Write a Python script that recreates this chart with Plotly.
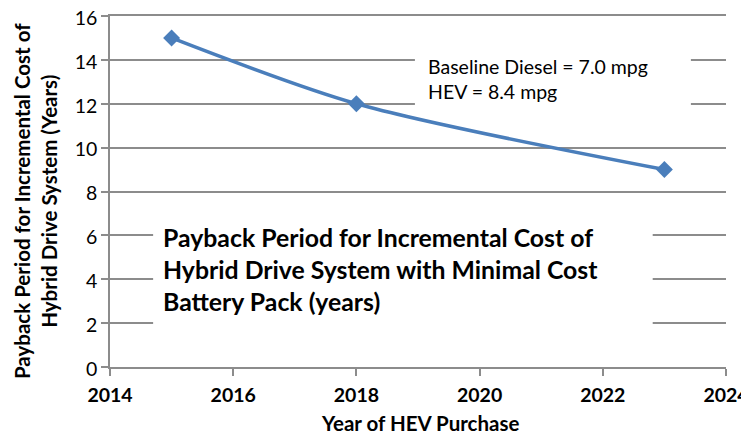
import plotly.graph_objects as go

years = [2015, 2018, 2023]
payback = [15, 12, 9]
x_ticks = [2014, 2016, 2018, 2020, 2022, 2024]
y_ticks = [0, 2, 4, 6, 8, 10, 12, 14, 16]

FONT = "Lato"
GRID = "#8c8c8c"

# page has an 8px body margin: figure drawn at offset (8, 8)
W, H = 741, 428
L, T, R, B = 102, 8, 23, 69
PW, PH = W - L - R, H - T - B

def px_x(px):  # page px -> paper fraction
    return (px - 8 - L) / PW

def px_y(py):
    return (H - B - (py - 8)) / PH

fig = go.Figure()
fig.add_trace(go.Scatter(
    x=years, y=payback, mode="lines+markers",
    line=dict(color="#4a7ebb", width=3.5, shape="spline", smoothing=0.8),
    marker=dict(symbol="diamond", size=13, color="#4a7ebb"),
    showlegend=False, hoverinfo="skip"))

# white text boxes hiding gridlines
fig.add_shape(type="rect", xref="x", yref="y", x0=2014.70, x1=2022.81, y0=1.6, y1=6.9,
              fillcolor="white", line=dict(width=0), layer="between")
fig.add_shape(type="rect", xref="x", yref="y", x0=2018.95, x1=2023.43, y0=11.7, y1=14.4,
              fillcolor="white", line=dict(width=0), layer="between")

fig.add_annotation(x=2014.83, y=4.45, xref="x", yref="y", xanchor="left", yanchor="middle",
                   align="left", showarrow=False,
                   text="<b>Payback Period for Incremental Cost of<br>Hybrid Drive System with Minimal Cost<br>Battery Pack (years)</b>",
                   font=dict(family=FONT, size=24.8, color="black"))
fig.add_annotation(x=2019.13, y=13.11, xref="x", yref="y", xanchor="left", yanchor="middle",
                   align="left", showarrow=False,
                   text="Baseline Diesel = 7.0 mpg<br>HEV = 8.4 mpg",
                   font=dict(family=FONT, size=19.5, color="black"))

# axis titles
fig.add_annotation(x=px_x(35), y=px_y(201), xref="paper", yref="paper",
                   xanchor="center", yanchor="middle", showarrow=False, textangle=-90,
                   text="<b>Payback Period for Incremental Cost of<br>Hybrid Drive System (Years)</b>",
                   font=dict(family=FONT, size=20.5, color="black"))
fig.add_annotation(x=px_x(420), y=px_y(423), xref="paper", yref="paper",
                   xanchor="center", yanchor="middle", showarrow=False,
                   text="<b>Year of HEV Purchase</b>",
                   font=dict(family=FONT, size=20.5, color="black"))

fig.update_layout(
    width=W, height=H,
    margin=dict(l=L, r=R, t=T, b=B, autoexpand=False),
    paper_bgcolor="white", plot_bgcolor="white",
    font=dict(family=FONT, color="black"),
    xaxis=dict(range=[2014, 2024], tickmode="array", tickvals=x_ticks,
               ticktext=[f"<b>{v}</b>" for v in x_ticks], automargin=False,
               ticklabeloverflow="allow", ticklabelstandoff=3,
               tickfont=dict(size=19.5), showgrid=False, zeroline=False,
               showline=True, mirror=True, linecolor=GRID, linewidth=1.5,
               ticks="outside", ticklen=7, tickcolor=GRID, tickwidth=1.5),
    yaxis=dict(range=[0, 16], tickmode="array", tickvals=y_ticks, automargin=False,
               ticklabeloverflow="allow", ticklabelshift=2,
               tickfont=dict(size=19.5), showgrid=True, gridcolor=GRID, gridwidth=1.5,
               zeroline=False, showline=True, linecolor=GRID, linewidth=1.5,
               ticks="outside", ticklen=7, tickcolor=GRID, tickwidth=1.5),
)

fig.write_html("out.html")
